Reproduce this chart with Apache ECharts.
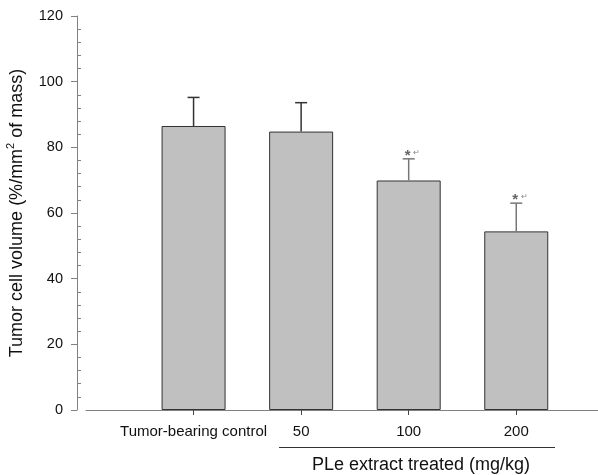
<!DOCTYPE html>
<html>
<head>
<meta charset="utf-8">
<script src="https://cdn.jsdelivr.net/npm/echarts@6/dist/echarts.min.js"></script>
<style>
  html, body { margin: 0; padding: 0; background: #fff; }
  #chart { width: 598px; height: 475px; }
</style>
</head>
<body>
<div id="chart"></div>
<script>
// groups along x (positions 1..4), mean and upper error
const categories = ['Tumor-bearing control', '50', '100', '200'];
const positions = [1, 2, 3, 4];
const means = [86.5, 84.8, 69.9, 54.4];
const errTops = [95.2, 93.6, 76.5, 63.0];
const sigMarks = ['', '', '*', '*'];

const chart = echarts.init(document.getElementById('chart'));
const font = 'Liberation Sans, Arial, sans-serif';

const barData = positions.map((p, i) => [p, means[i]]);
const errData = positions.map((p, i) => [p, means[i], errTops[i], sigMarks[i]]);

const option = {
  animation: false,
  grid: { left: 86, top: 16, bottom: 65, right: 0, outerBoundsMode: 'none' },
  xAxis: {
    type: 'value',
    min: 0,
    max: 4.76,
    splitLine: { show: false },
    axisLine: { onZero: false, lineStyle: { color: '#808080', width: 1 } },
    axisTick: { show: true, length: 5, customValues: positions, lineStyle: { color: '#444' } },
    axisLabel: {
      customValues: positions,
      margin: 14,
      fontSize: 15,
      fontFamily: font,
      color: '#111',
      formatter: function (v) { return categories[positions.indexOf(v)] || ''; }
    }
  },
  yAxis: [{
    type: 'value',
    min: 0,
    max: 120,
    interval: 20,
    offset: 9,
    splitLine: { show: false },
    axisLine: { show: true, onZero: false, lineStyle: { color: '#808080' } },
    axisTick: { show: true, length: 6, lineStyle: { color: '#808080' } },
    axisLabel: { fontSize: 14.5, fontFamily: font, color: '#111', margin: 14 },
    name: 'Tumor cell volume (%/mm{sup|2} of mass)',
    nameLocation: 'middle',
    nameGap: 49,
    nameTextStyle: {
      fontSize: 18, lineHeight: 22, fontFamily: font, color: '#111',
      rich: { sup: { fontSize: 11, lineHeight: 22, verticalAlign: 'top', fontFamily: font, color: '#111' } }
    }
  }, {
    type: 'value',
    min: 0,
    max: 120,
    interval: 20,
    offset: 9,
    position: 'left',
    splitLine: { show: false },
    axisLine: { show: false, onZero: false },
    axisTick: { show: false, inside: true },
    minorTick: { show: true, splitNumber: 5, length: 4, lineStyle: { color: '#808080' } },
    axisLabel: { show: false }
  }],
  series: [{
    type: 'bar',
    data: barData,
    barWidth: 64,
    itemStyle: { color: '#c0c0c0', borderColor: '#333', borderWidth: 1 }
  }, {
    type: 'custom',
    data: errData,
    z: 3,
    renderItem: function (params, api) {
      const x = api.value(0);
      const base = api.coord([x, api.value(1)]);
      const top = api.coord([x, api.value(2)]);
      const stroke = params.dataIndex < 2 ? '#333' : '#777';
      const children = [
        { type: 'line', shape: { x1: base[0], y1: base[1], x2: top[0], y2: top[1] }, style: { stroke: stroke, lineWidth: 1.5 } },
        { type: 'line', shape: { x1: top[0] - 6, y1: top[1], x2: top[0] + 6, y2: top[1] }, style: { stroke: stroke, lineWidth: 1.5 } }
      ];
      const mark = errData[params.dataIndex][3];
      if (mark) {
        children.push({
          type: 'text',
          style: { x: top[0] - 1, y: top[1] - 3, text: mark, fontSize: 15, fontWeight: 'bold', fontFamily: font, fill: '#666', align: 'center', verticalAlign: 'middle' }
        });
        children.push({
          type: 'text',
          style: { x: top[0] + 8, y: top[1] - 2, text: '\u21b5', fontSize: 8, fontFamily: font, fill: '#888', align: 'center', verticalAlign: 'bottom' }
        });
      }
      return { type: 'group', children: children };
    }
  }],
  graphic: [{
    type: 'line',
    shape: { x1: 279, y1: 447.5, x2: 555, y2: 447.5 },
    style: { stroke: '#333', lineWidth: 1 }
  }, {
    type: 'text',
    x: 421,
    y: 465,
    style: { text: 'PLe extract treated (mg/kg)', fontSize: 18, fontFamily: font, fill: '#111', align: 'center', verticalAlign: 'middle' }
  }]
};

chart.setOption(option);
</script>
</body>
</html>
